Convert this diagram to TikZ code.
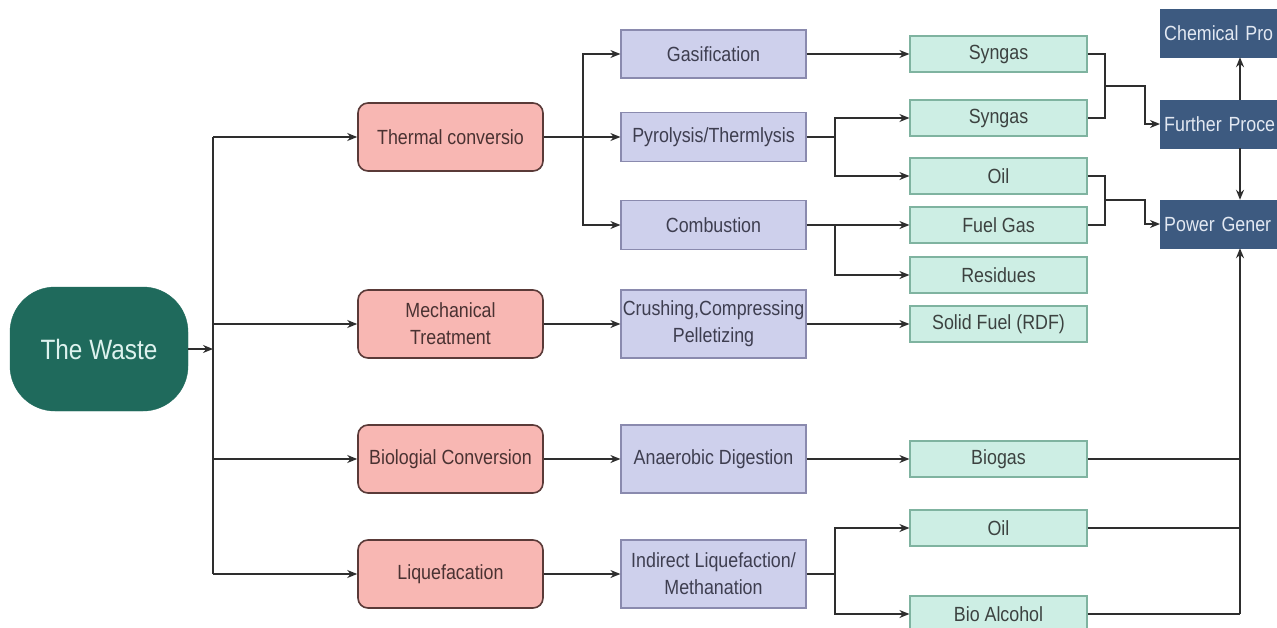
\documentclass[tikz,border=0pt]{standalone}
\usepackage{fontspec}
\setmainfont[FakeStretch=0.87]{Liberation Sans}
\usetikzlibrary{calc, arrows.meta}
\definecolor{wastefill}{HTML}{1F6A5C}
\definecolor{wastetext}{HTML}{DDF2EE}
\definecolor{stagefill}{HTML}{F8B7B3}
\definecolor{stageline}{HTML}{5A3A38}
\definecolor{stagetext}{HTML}{4A3232}
\definecolor{procfill}{HTML}{CED0EC}
\definecolor{procline}{HTML}{8A8AAE}
\definecolor{proctext}{HTML}{3E3E50}
\definecolor{prodfill}{HTML}{CDEEE4}
\definecolor{prodline}{HTML}{7FB3A0}
\definecolor{prodtext}{HTML}{3C4240}
\definecolor{usefill}{HTML}{3D5A80}
\definecolor{usetext}{HTML}{E2E8F2}
\definecolor{linegray}{HTML}{2E2E2E}
\begin{document}
\begin{tikzpicture}[x=1pt, y=-1pt, >={Stealth[length=10pt, width=8pt]},
font=\fontsize{20.5}{27}\selectfont,
waste/.style={draw=wastefill, fill=wastefill, text=wastetext, rounded corners=45pt, minimum width=178pt, minimum height=124pt, font=\fontsize{28}{32}\selectfont},
stage/.style={draw=stageline, fill=stagefill, text=stagetext, line width=1.6pt, rounded corners=10pt, minimum width=185pt, minimum height=68pt, align=center, inner sep=2pt},
proc/.style={draw=procline, fill=procfill, text=proctext, line width=1.2pt, minimum width=185pt, align=center, inner sep=1pt},
prod/.style={draw=prodline, fill=prodfill, text=prodtext, line width=1.2pt, minimum width=177pt, minimum height=36pt, inner sep=1pt},
use/.style={draw=usefill, fill=usefill, text=usetext, anchor=west, text width=150pt, minimum height=48pt, align=left, inner sep=4pt, font=\fontsize{20.5}{24}\selectfont},
route/.style={draw=linegray, line width=1.5pt}]
\clip (0,0) rectangle (1277,627);
\fill[white] (0,0) rectangle (1277,627);
\node[waste] (waste) at (99,349) {The Waste};
\node[stage] (therm) at (450.5,137) {Thermal conversio};
\node[stage] (mech) at (450.5,324) {Mechanical\\Treatment};
\node[stage] (bio) at (450.5,459) {Biologial Conversion};
\node[stage] (liq) at (450.5,574) {Liquefacation};
\node[proc, minimum height=48pt] (gas) at (713.5,54) {Gasification};
\node[proc, minimum height=49pt] (pyro) at (713.5,137) {Pyrolysis/Thermlysis};
\node[proc, minimum height=49pt] (comb) at (713.5,225) {Combustion};
\node[proc, minimum height=68pt] (crush) at (713.5,324) {Crushing,Compressing\\Pelletizing};
\node[proc, minimum height=68pt] (anae) at (713.5,459) {Anaerobic Digestion};
\node[proc, minimum height=68pt] (indir) at (713.5,574) {Indirect Liquefaction/\\Methanation};
\node[prod] (syn1) at (998.5,54) {Syngas};
\node[prod] (syn2) at (998.5,118) {Syngas};
\node[prod] (oil1) at (998.5,176) {Oil};
\node[prod] (fuel) at (998.5,225) {Fuel Gas};
\node[prod] (resid) at (998.5,275) {Residues};
\node[prod] (solid) at (998.5,324) {Solid Fuel (RDF)};
\node[prod] (biogas) at (998.5,459) {Biogas};
\node[prod] (oil2) at (998.5,528) {Oil};
\node[prod] (alc) at (998.5,614) {Bio Alcohol};
\node[use] (chem) at (1160,33) {Chemical Pro};
\node[use] (further) at (1160,124) {Further Proce};
\node[use] (power) at (1160,224) {Power Gener};
\coordinate (tk) at (213,0);
\coordinate (sp1) at (583,0);
\coordinate (sp2) at (835,0);
\coordinate (mg) at (1105,0);
\coordinate (mg2) at (1145,0);
\coordinate (rt) at (1240,0);
\coordinate (m1) at (1105,86);
\coordinate (m2) at (1105,200);
\draw[route, ->] (waste.east) -- (waste.east -| tk);
\draw[route] (therm.west -| tk) -- (liq.west -| tk);
\draw[route, ->] (therm.west -| tk) -- (therm.west);
\draw[route, ->] (mech.west -| tk) -- (mech.west);
\draw[route, ->] (bio.west -| tk) -- (bio.west);
\draw[route, ->] (liq.west -| tk) -- (liq.west);
\draw[route, ->] (therm.east) -- (pyro.west);
\draw[route, ->] (therm.east -| sp1) |- (gas.west);
\draw[route, ->] (therm.east -| sp1) |- (comb.west);
\draw[route, ->] (mech.east) -- (crush.west);
\draw[route, ->] (bio.east) -- (anae.west);
\draw[route, ->] (liq.east) -- (indir.west);
\draw[route, ->] (gas.east) -- (syn1.west);
\draw[route] (pyro.east) -- (pyro.east -| sp2);
\draw[route, ->] (pyro.east -| sp2) |- (syn2.west);
\draw[route, ->] (pyro.east -| sp2) |- (oil1.west);
\draw[route, ->] (comb.east) -- (fuel.west);
\draw[route, ->] (comb.east -| sp2) |- (resid.west);
\draw[route, ->] (crush.east) -- (solid.west);
\draw[route, ->] (anae.east) -- (biogas.west);
\draw[route] (indir.east) -- (indir.east -| sp2);
\draw[route, ->] (indir.east -| sp2) |- (oil2.west);
\draw[route, ->] (indir.east -| sp2) |- (alc.west);
\draw[route] (syn1.east) -- (syn1.east -| mg) -- (syn2.east -| mg) -- (syn2.east);
\draw[route, ->] (m1) -| (mg2 |- further.west) -- (further.west);
\draw[route] (oil1.east) -- (oil1.east -| mg) -- (fuel.east -| mg) -- (fuel.east);
\draw[route, ->] (m2) -| (mg2 |- power.west) -- (power.west);
\draw[route, ->] (further.north -| rt) -- (chem.south -| rt);
\draw[route, ->] (further.south -| rt) -- (power.north -| rt);
\draw[route] (biogas.east) -- (biogas.east -| rt);
\draw[route] (oil2.east) -- (oil2.east -| rt);
\draw[route] (alc.east) -- (alc.east -| rt);
\draw[route, ->] (alc.east -| rt) -- (power.south -| rt);
\end{tikzpicture}
\end{document}
